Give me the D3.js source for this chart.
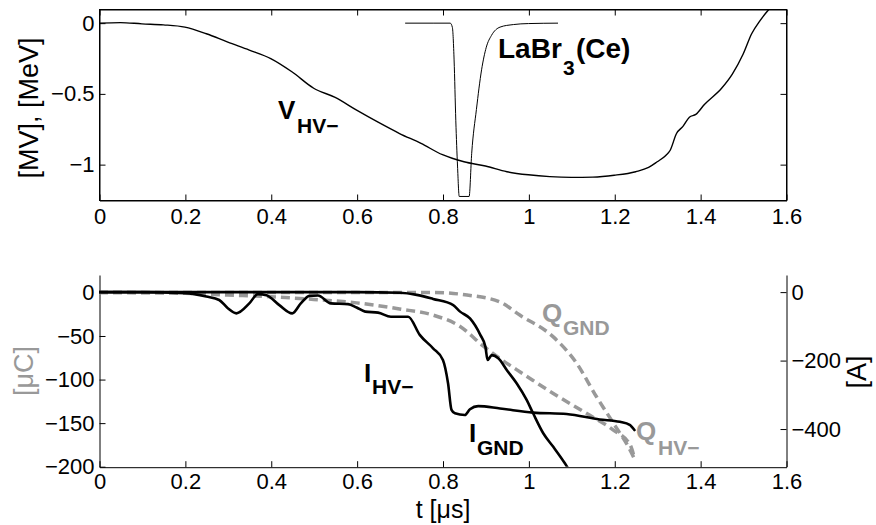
<!DOCTYPE html>
<html>
<head>
<meta charset="utf-8">
<script src="https://cdn.jsdelivr.net/npm/d3@7"></script>
<style>
  html, body { margin: 0; padding: 0; background: #fff; }
  svg { display: block; font-family: "Liberation Sans", Arial, Helvetica, sans-serif; }
</style>
</head>
<body>
<svg id="chart" width="876" height="525"></svg>
<script>
// ---------------- DATA ----------------
// Top panel: V_HV- (MV) and LaBr3(Ce) signal (MeV scale)
const tV   = [0,0.05,0.1,0.15,0.2,0.25,0.3,0.35,0.4,0.45,0.5,0.55,0.6,0.65,0.7,0.75,0.8,0.85,0.9,0.95,1.0,1.05,1.1,1.15,1.2,1.25,1.28,1.3,1.32,1.33,1.345,1.36,1.375,1.39,1.41,1.45,1.475,1.5,1.52,1.54,1.56,1.57];
const vHV  = [0,0.004,-0.005,-0.012,-0.028,-0.075,-0.134,-0.19,-0.25,-0.345,-0.46,-0.525,-0.615,-0.70,-0.78,-0.85,-0.93,-0.98,-1.01,-1.05,-1.072,-1.085,-1.09,-1.088,-1.075,-1.05,-1.02,-0.98,-0.935,-0.9,-0.78,-0.73,-0.665,-0.645,-0.575,-0.46,-0.36,-0.22,-0.075,0.02,0.097,0.13];
const tLa  = [0.713,0.78,0.818,0.823,0.827,0.831,0.835,0.839,0.862,0.868,0.879,0.891,0.902,0.914,0.934,0.965,1.0,1.069];
const vLa  = [0,0,0,-0.03,-0.26,-0.69,-1.01,-1.225,-1.225,-0.92,-0.61,-0.33,-0.17,-0.087,-0.028,-0.01,-0.003,0];

// Bottom panel: currents (A, right axis) and charges (uC, left axis)
const tIHV = [0,0.1,0.2,0.25,0.28,0.3,0.32,0.35,0.37,0.39,0.42,0.45,0.47,0.49,0.51,0.54,0.58,0.6,0.62,0.65,0.68,0.72,0.747,0.778,0.801,0.813,0.821,0.829,0.852,0.864,0.883,0.934,1.011,1.089,1.166,1.213,1.236,1.247];
const iHV  = [0,0,-3,-13,-23,-47,-62,-33,-6,-9,-38,-62,-33,-11,-10,-33,-35,-45,-57,-60,-72,-72,-125,-164,-198,-267,-344,-354,-359,-342,-333,-340,-352,-356,-372,-379,-388,-403];
const tIGND = [0,0.3,0.6,0.701,0.74,0.778,0.825,0.841,0.864,0.888,0.9,0.905,0.915,0.93,0.95,0.973,0.996,1.011,1.035,1.058,1.085,1.095];
const iGND  = [0,0,0,-2,-8,-20,-38,-57,-77,-125,-160,-198,-184,-193,-228,-267,-315,-354,-413,-452,-500,-520];
const tQHV = [0,0.2,0.3,0.4,0.5,0.6,0.7,0.778,0.841,0.896,0.958,0.98,1.058,1.136,1.198,1.237,1.247];
const qHV  = [0,-1,-3,-5,-8,-12,-19,-26,-39,-62,-84,-91,-116,-139,-158,-175,-190];
const tQGND = [0,0.5,0.7,0.78,0.857,0.934,0.98,1.058,1.112,1.159,1.198,1.237,1.248];
const qGND  = [0,0,0,0,-3,-11,-26,-51,-81,-120,-150,-181,-192];

// Ticks
const xTicks     = [0,0.2,0.4,0.6,0.8,1,1.2,1.4,1.6];
const yTopTicks  = [0,-0.5,-1];
const yLeftTicks = [0,-50,-100,-150,-200];
const yRightTicks= [0,-200,-400];

// ---------------- DRAW ----------------
const svg = d3.select("#chart");
const fmt = d3.format("~g");
const GRAY = "#999999";
const FONT_TICK = 22;

const L = 99, R = 786;
const top1 = 9, bot1 = 200;
const top2 = 275, bot2 = 466.7;

const x1 = d3.scaleLinear().domain([0, 1.6]).range([L, R]);
const y1 = d3.scaleLinear().domain([-1.25, 0.1]).range([bot1, top1]);
const x2 = d3.scaleLinear().domain([0, 1.6]).range([L, R]);
const yQ = d3.scaleLinear().domain([-200, 20]).range([bot2, top2]);
const yI = d3.scaleLinear().domain([-510, 50]).range([bot2, top2]);

const defs = svg.append("defs");
defs.append("clipPath").attr("id", "clip1").append("rect")
  .attr("x", L).attr("y", top1).attr("width", R - L).attr("height", bot1 - top1);
defs.append("clipPath").attr("id", "clip2").append("rect")
  .attr("x", L).attr("y", top2).attr("width", R - L).attr("height", bot2 - top2);

function styleAxis(g) {
  g.attr("font-size", FONT_TICK).attr("font-family", '"Liberation Sans", Arial, Helvetica, sans-serif');
  g.selectAll("path.domain").attr("stroke", "#000").attr("stroke-width", 1);
  g.selectAll(".tick line").attr("stroke", "#000").attr("stroke-width", 1);
  g.selectAll(".tick text").attr("font-size", FONT_TICK).attr("fill", "#000");
}

// ---- Top panel ----
const gTop = svg.append("g");
gTop.append("rect").attr("x", L + 0.5).attr("y", top1 + 0.5)
  .attr("width", R - L).attr("height", bot1 - top1)
  .attr("fill", "none").attr("stroke", "#000").attr("stroke-width", 1);

gTop.append("g").attr("transform", `translate(0.5,${bot1 + 0.5})`)
  .call(d3.axisBottom(x1).tickValues(xTicks).tickFormat(fmt).tickSize(-6).tickSizeOuter(0).tickPadding(8))
  .call(styleAxis);
gTop.append("g").attr("transform", `translate(0.5,${top1 + 0.5})`)
  .call(d3.axisTop(x1).tickValues(xTicks).tickFormat("").tickSize(-6).tickSizeOuter(0))
  .call(styleAxis);
gTop.append("g").attr("transform", `translate(${L + 0.5},0)`)
  .call(d3.axisLeft(y1).tickValues(yTopTicks).tickFormat(fmt).tickSize(-6).tickSizeOuter(0).tickPadding(5))
  .call(styleAxis);
gTop.append("g").attr("transform", `translate(${R + 0.5},0)`)
  .call(d3.axisRight(y1).tickValues(yTopTicks).tickFormat("").tickSize(-6).tickSizeOuter(0))
  .call(styleAxis);

gTop.append("path").attr("clip-path", "url(#clip1)")
  .datum(d3.zip(tV, vHV))
  .attr("d", d3.line().x(d => x1(d[0])).y(d => y1(d[1])).curve(d3.curveMonotoneX))
  .attr("fill", "none").attr("stroke", "#000").attr("stroke-width", 1.4);
gTop.append("path").attr("clip-path", "url(#clip1)")
  .datum(d3.zip(tLa, vLa))
  .attr("d", d3.line().x(d => x1(d[0])).y(d => y1(d[1])).curve(d3.curveMonotoneX))
  .attr("fill", "none").attr("stroke", "#000").attr("stroke-width", 1);

gTop.append("text").attr("transform", `translate(38,108) rotate(-90)`)
  .attr("text-anchor", "middle").attr("font-size", 27).attr("fill", "#000")
  .text("[MV], [MeV]");

// ---- Bottom panel ----
const gBot = svg.append("g");
gBot.append("g").attr("transform", `translate(0.5,${bot2 + 0.5})`)
  .call(d3.axisBottom(x2).tickValues(xTicks).tickFormat(fmt).tickSize(-6).tickSizeOuter(0).tickPadding(6))
  .call(styleAxis);
gBot.append("g").attr("transform", `translate(${L + 0.5},0)`)
  .call(d3.axisLeft(yQ).tickValues(yLeftTicks).tickFormat(fmt).tickSize(-6).tickSizeOuter(0).tickPadding(5))
  .call(styleAxis);
gBot.append("g").attr("transform", `translate(${R + 0.5},0)`)
  .call(d3.axisRight(yI).tickValues(yRightTicks).tickFormat(fmt).tickSize(-6).tickSizeOuter(0).tickPadding(5))
  .call(styleAxis);

const lineQ = d3.line().x(d => x2(d[0])).y(d => yQ(d[1])).curve(d3.curveMonotoneX);
const lineI = d3.line().x(d => x2(d[0])).y(d => yI(d[1])).curve(d3.curveMonotoneX);

const gLines = gBot.append("g").attr("clip-path", "url(#clip2)");
[[tQHV, qHV], [tQGND, qGND]].forEach(([t, q]) => {
  gLines.append("path").datum(d3.zip(t, q)).attr("d", lineQ)
    .attr("fill", "none").attr("stroke", GRAY).attr("stroke-width", 3.5)
    .attr("stroke-dasharray", "9,5");
});
[[tIHV, iHV], [tIGND, iGND]].forEach(([t, i]) => {
  gLines.append("path").datum(d3.zip(t, i)).attr("d", lineI)
    .attr("fill", "none").attr("stroke", "#000").attr("stroke-width", 2.6)
    .attr("stroke-linejoin", "round").attr("stroke-linecap", "round");
});

gBot.append("text").attr("transform", `translate(33,371) rotate(-90)`)
  .attr("text-anchor", "middle").attr("font-size", 27).attr("fill", GRAY)
  .text("[μC]");
gBot.append("text").attr("transform", `translate(866,372) rotate(-90)`)
  .attr("text-anchor", "middle").attr("font-size", 27).attr("fill", "#000")
  .text("[A]");
gBot.append("text").attr("x", 443).attr("y", 518)
  .attr("text-anchor", "middle").attr("font-size", 25).attr("fill", "#000")
  .text("t [μs]");

// ---- Annotations ----
function label(xm, ym, main, xs, ys, sub, color, size) {
  const g = svg.append("g").attr("fill", color).attr("font-weight", "bold");
  const m = g.append("text").attr("x", xm).attr("y", ym).attr("font-size", size || 26).text(main);
  g.append("text").attr("x", xs).attr("y", ys).attr("font-size", 21).text(sub);
  return m;
}
label(278, 119, "V", 297, 133, "HV−", "#000");
label(498, 58, "LaBr", 563, 75, "3", "#000", 28);
svg.append("text").attr("x", 576).attr("y", 58).attr("font-size", 28)
  .attr("font-weight", "bold").attr("fill", "#000").text("(Ce)");
label(364, 382, "I", 372, 394, "HV−", "#000");
label(469, 442, "I", 477, 455, "GND", "#000");
label(542, 322, "Q", 563, 335, "GND", GRAY);
label(636, 440, "Q", 658, 455, "HV−", GRAY);
</script>
</body>
</html>
